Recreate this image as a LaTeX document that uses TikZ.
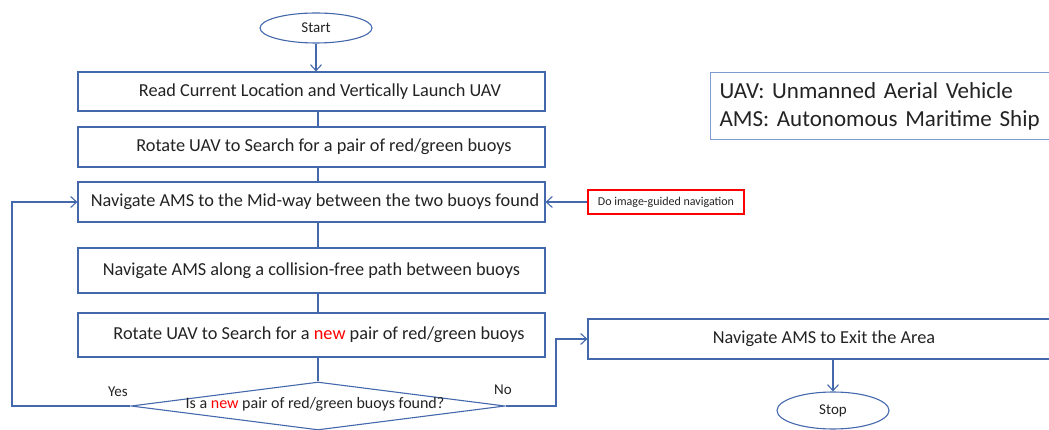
\documentclass[tikz,border=0pt]{standalone}
\usepackage{fontspec}
\setmainfont{Carlito}
\usetikzlibrary{arrows.meta,shapes.geometric}
\definecolor{lineblue}{RGB}{68,104,172}
\definecolor{legblue}{RGB}{125,155,208}
\definecolor{txt}{RGB}{35,35,35}
\definecolor{newred}{RGB}{255,0,0}
\begin{document}
\begin{tikzpicture}[x=1pt,y=-1pt,
  line width=1.1pt,
  conn/.style={draw=lineblue, line width=1.1pt},
  arr/.style={conn, -{Straight Barb[length=6pt,width=11pt]}},
  procbox/.style={draw=lineblue, line width=1.1pt, minimum width=467pt, inner sep=0pt,
    text=txt, font=\fontsize{18.3}{22}\selectfont},
  term/.style={draw=lineblue, line width=1.1pt, ellipse, minimum width=112pt, inner sep=0pt,
    text=txt, font=\fontsize{15}{18}\selectfont},
  lab/.style={text=txt, inner sep=0pt, font=\fontsize{15}{18}\selectfont},
  note/.style={draw=red, line width=1.1pt, minimum width=156pt, minimum height=24pt, inner sep=0pt,
    text=txt, font=\fontsize{12}{14}\selectfont}
]
\useasboundingbox (0,0) rectangle (1049,430);
\clip (0,0) rectangle (1049,430);

% terminals
\node[term, minimum height=30pt] (start) at (316,28) {Start};
\node[term, minimum height=37pt] (stop) at (833,410.5) {Stop};

% process boxes
\node[procbox, minimum height=39pt] (b1) at (311.5,91.5) {\hspace*{17pt}Read Current Location and Vertically Launch UAV};
\node[procbox, minimum height=40pt] (b2) at (311.5,147) {\hspace*{25pt}Rotate UAV to Search for a pair of red/green buoys};
\node[procbox, minimum height=40pt] (b3) at (311.5,202) {\hspace*{7pt}Navigate AMS to the Mid-way between the two buoys found};
\node[procbox, minimum height=45pt] (b4) at (311.5,270.5) {Navigate AMS along a collision-free path between buoys};
\node[procbox, minimum height=44pt] (b5) at (311.5,335) {\hspace*{15pt}Rotate UAV to Search for a \textcolor{newred}{new} pair of red/green buoys};
\node[procbox, minimum width=472pt, minimum height=40pt] (b6) at (824,339) {Navigate AMS to Exit the Area};

% decision
\node[draw=lineblue, line width=1.1pt, diamond, minimum width=374pt, minimum height=48pt, inner sep=0pt] (dia) at (318,406) {};
\node[lab, font=\fontsize{16}{19}\selectfont] (dtext) at (315,404) {Is a \textcolor{newred}{new} pair of red/green buoys found?};

% note
\node[note] (note) at (666,202) {Do image-guided navigation};

% legend
\node[draw=legblue, line width=1.1pt, anchor=north west, minimum width=350pt, minimum height=67pt,
  inner xsep=9pt, inner ysep=0pt, text width=345pt, align=left, text=txt,
  font=\fontsize{23}{28}\selectfont] (leg) at (710,72)
  {UAV: Unmanned Aerial Vehicle\\AMS: Autonomous Maritime Ship};

% labels
\node[lab] (yes) at (118,392) {Yes};
\node[lab] (no) at (503,390) {No};

% connectors
\coordinate (cx) at (318,0);
\coordinate (yl) at (12,406);
\coordinate (nl) at (556,406);
\draw[arr] (start) -- (start |- b1.north);
\draw[conn] (b1.south -| cx) -- (b2.north -| cx);
\draw[conn] (b2.south -| cx) -- (b3.north -| cx);
\draw[conn] (b3.south -| cx) -- (b4.north -| cx);
\draw[conn] (b4.south -| cx) -- (b5.north -| cx);
\draw[conn] (b5.south -| cx) -- (dia.north);
\draw[arr] (dia.west) -- (yl) |- (b3.west);
\draw[arr] (dia.east) -- (nl) |- (b6.west);
\draw[arr] (note.west) -- (b3.east);
\draw[arr] (b6.south -| stop) -- (stop.north);
\end{tikzpicture}
\end{document}
